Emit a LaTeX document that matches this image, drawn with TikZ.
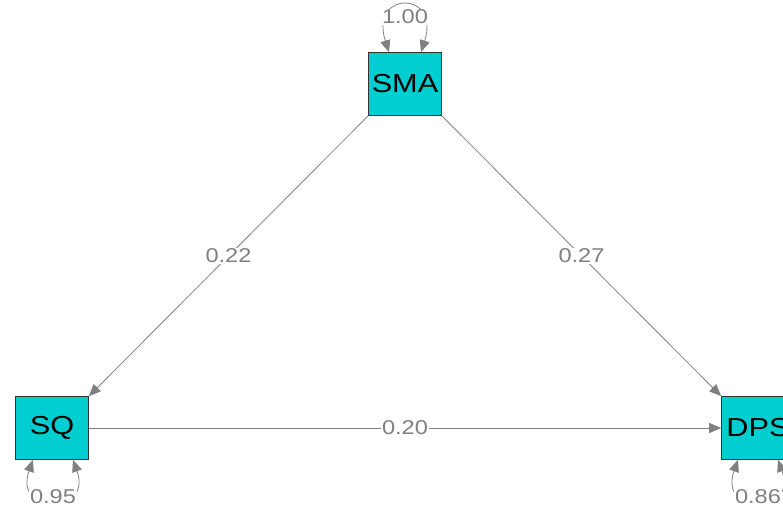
\documentclass[tikz,border=0pt]{standalone}
\usepackage{fontspec}
\setmainfont{Liberation Sans}
\newfontfamily\widesans[FakeStretch=1.18]{Liberation Sans}
\usetikzlibrary{arrows.meta}
\definecolor{boxfill}{HTML}{00CED1}
\definecolor{edgegray}{HTML}{808080}
\begin{document}
\begin{tikzpicture}[x=1pt,y=-1pt,
  var/.style={draw=black!80,fill=boxfill,minimum width=73pt,minimum height=63pt,inner sep=0pt,font=\widesans\fontsize{26}{26}\selectfont,line width=0.6pt},
  edge/.style={draw=edgegray,line width=0.8pt,-{Triangle[length=12pt,width=10pt]},color=edgegray},
  loopedge/.style={draw=edgegray,line width=0.8pt,{Triangle[length=12pt,width=10pt]}-{Triangle[length=12pt,width=10pt]},color=edgegray},
  elab/.style={fill=white,text=edgegray,inner sep=1pt,font=\widesans\fontsize{20}{20}\selectfont}]
\useasboundingbox (0,0) rectangle (783,507);
\clip (0,0) rectangle (783,507);
\node[var] (SMA) at (405,84) {SMA};
\node[var] (SQ) at (52,428) {SQ};
\node[var] (DPS) at (758,428) {DPS};
% edges
\draw[edge] (SMA.south west) -- node[elab] {0.22} (SQ.north east);
\draw[edge] (SMA.south east) -- node[elab] {0.27} (DPS.north west);
\draw[edge] (SQ.east) -- node[elab] {0.20} (DPS.west);
% self loops
\draw[loopedge] ([xshift=-16pt]SMA.north) .. controls +(-20,-62) and +(20,-62) .. node[elab,pos=0.5,yshift=-11pt] {1.00} ([xshift=16pt]SMA.north);
\draw[loopedge] ([xshift=-19pt]SQ.south) .. controls +(-20,56) and +(20,56) .. node[elab,pos=0.5,yshift=5pt] {0.95} ([xshift=21pt]SQ.south);
\draw[loopedge] ([xshift=-20pt]DPS.south) .. controls +(-20,56) and +(20,56) .. node[elab,pos=0.5,yshift=5pt] {0.86} ([xshift=20pt]DPS.south);
\end{tikzpicture}
\end{document}
